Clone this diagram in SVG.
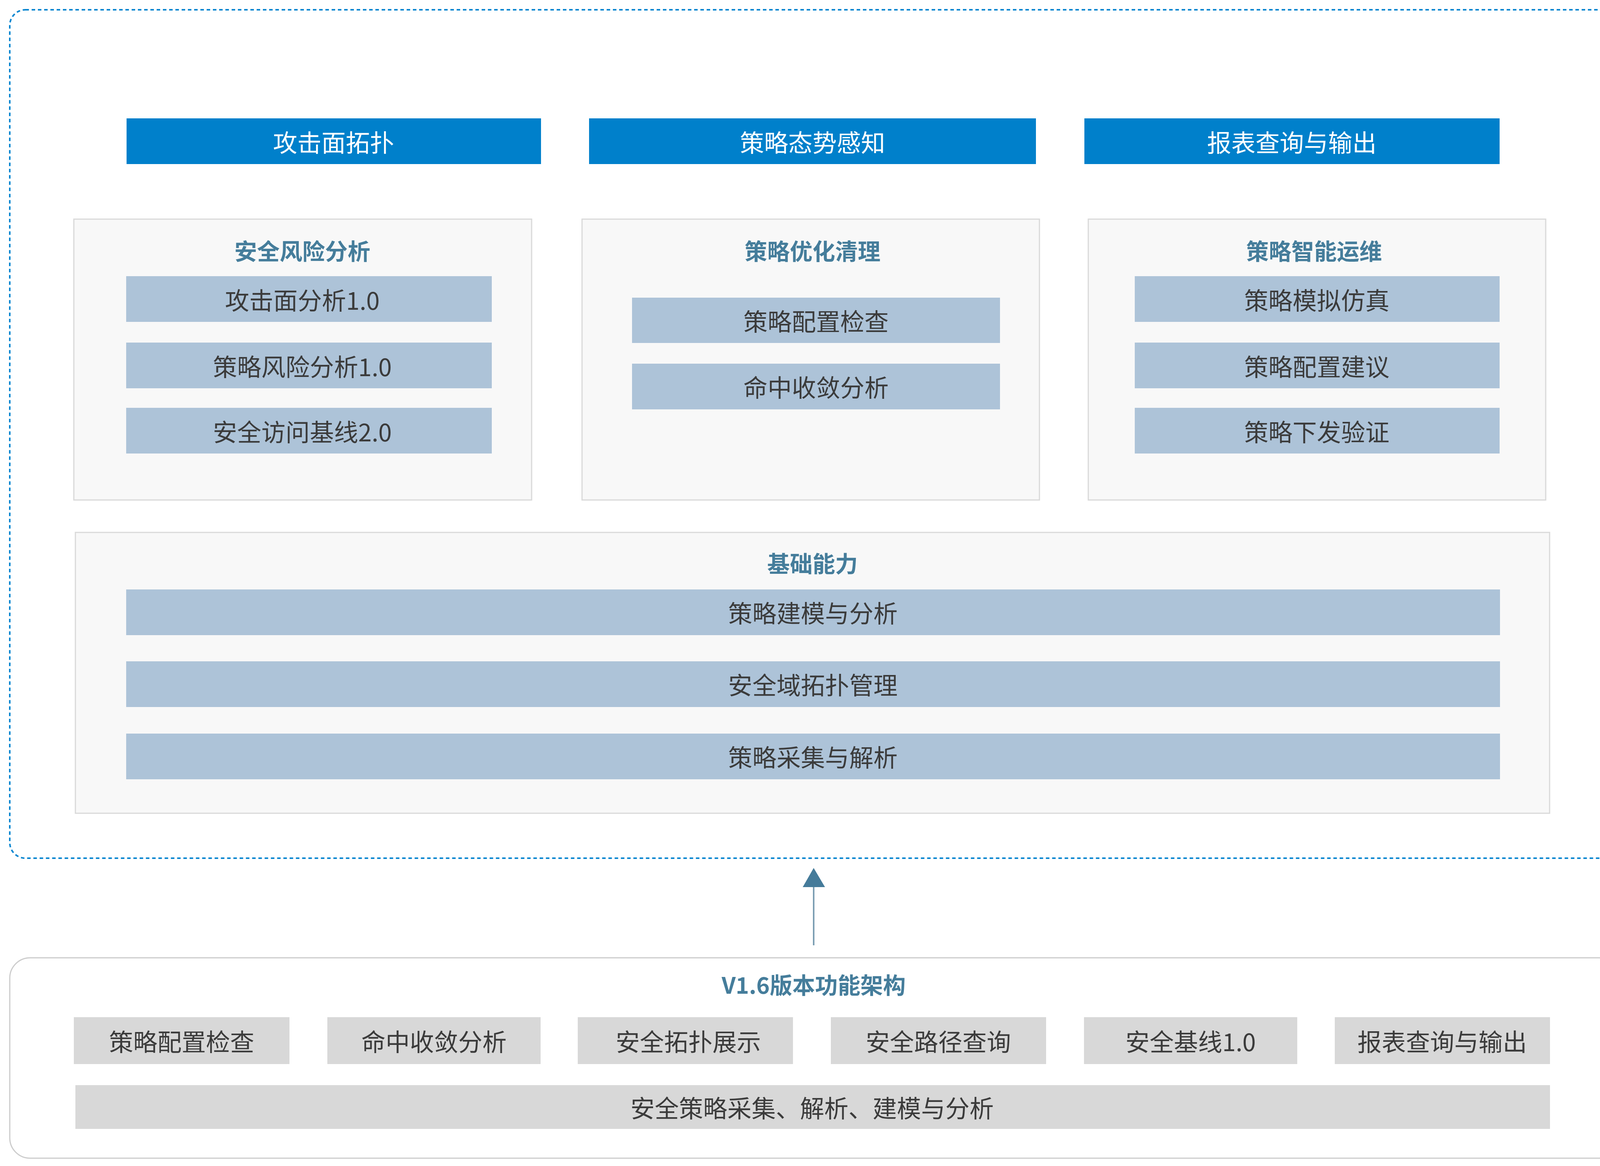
<svg xmlns="http://www.w3.org/2000/svg" width="4172" height="2985" viewBox="0 0 4172 2985">
<style>
text{font-family:"Noto Sans CJK SC","Microsoft YaHei",sans-serif;text-anchor:middle;dominant-baseline:central}
.hdr{fill:#0080cb}
.hdrt{fill:#ffffff;font-size:62px}
.panel{fill:#f8f8f8;stroke:#d9d9d9;stroke-width:3}
.ttl{fill:#457d9b;font-size:58px;font-weight:700}
.item{fill:#adc3d8}
.txt{fill:#3b3b3b;font-size:62px}
.gbox{fill:#d8d8d8}
</style>
<defs>
<marker id="ah" markerWidth="10" markerHeight="10" refX="5" refY="0" orient="auto" markerUnits="userSpaceOnUse"/>
</defs>
<rect id="frame" x="25" y="25" width="4122" height="2172" rx="40" ry="40" fill="none" stroke="#0a86d0" stroke-width="4" stroke-dasharray="9 7"/>

<g id="h1"><rect class="hdr" x="324" y="303" width="1061" height="117"/><text class="hdrt" x="854" y="362">攻击面拓扑</text></g>
<g id="h2"><rect class="hdr" x="1508" y="303" width="1144" height="117"/><text class="hdrt" x="2080" y="362">策略态势感知</text></g>
<g id="h3"><rect class="hdr" x="2776" y="303" width="1063" height="117"/><text class="hdrt" x="3307" y="362">报表查询与输出</text></g>

<g id="p1">
<rect class="panel" x="189" y="561" width="1172" height="719"/>
<text class="ttl" x="774" y="640">安全风险分析</text>
<rect class="item" x="323" y="707" width="936" height="117"/><text class="txt" x="774" y="766">攻击面分析1.0</text>
<rect class="item" x="323" y="877" width="936" height="117"/><text class="txt" x="774" y="936">策略风险分析1.0</text>
<rect class="item" x="323" y="1044" width="936" height="117"/><text class="txt" x="774" y="1103">安全访问基线2.0</text>
</g>
<g id="p2">
<rect class="panel" x="1490" y="561" width="1171" height="719"/>
<text class="ttl" x="2080" y="640">策略优化清理</text>
<rect class="item" x="1618" y="762" width="942" height="116"/><text class="txt" x="2089" y="820">策略配置检查</text>
<rect class="item" x="1618" y="931" width="942" height="117"/><text class="txt" x="2089" y="989">命中收敛分析</text>
</g>
<g id="p3">
<rect class="panel" x="2786" y="561" width="1171" height="719"/>
<text class="ttl" x="3364" y="640">策略智能运维</text>
<rect class="item" x="2905" y="707" width="934" height="117"/><text class="txt" x="3371" y="766">策略模拟仿真</text>
<rect class="item" x="2905" y="877" width="934" height="117"/><text class="txt" x="3371" y="936">策略配置建议</text>
<rect class="item" x="2905" y="1044" width="934" height="117"/><text class="txt" x="3371" y="1103">策略下发验证</text>
</g>
<g id="p4">
<rect class="panel" x="193" y="1363" width="3774" height="719"/>
<text class="ttl" x="2080" y="1440">基础能力</text>
<rect class="item" x="323" y="1509" width="3517" height="117"/><text class="txt" x="2081" y="1567">策略建模与分析</text>
<rect class="item" x="323" y="1693" width="3517" height="117"/><text class="txt" x="2081" y="1751">安全域拓扑管理</text>
<rect class="item" x="323" y="1878" width="3517" height="117"/><text class="txt" x="2081" y="1936">策略采集与解析</text>
</g>

<g id="connectors">
<line x1="2083" y1="2420" x2="2083" y2="2268" stroke="#7d9fb4" stroke-width="4"/>
<polygon points="2083,2222 2055,2271 2112,2271" fill="#457b9a"/>
</g>

<g id="v16">
<rect x="25" y="2452" width="4121" height="513" rx="52" ry="52" fill="#ffffff" stroke="#cccccc" stroke-width="3"/>
<text class="ttl" x="2083" y="2519">V1.6版本功能架构</text>
<rect class="gbox" x="189" y="2604" width="552" height="120"/><text class="txt" x="465" y="2664">策略配置检查</text>
<rect class="gbox" x="838" y="2604" width="546" height="120"/><text class="txt" x="1111" y="2664">命中收敛分析</text>
<rect class="gbox" x="1479" y="2604" width="551" height="120"/><text class="txt" x="1762" y="2664">安全拓扑展示</text>
<rect class="gbox" x="2127" y="2604" width="551" height="120"/><text class="txt" x="2402" y="2664">安全路径查询</text>
<rect class="gbox" x="2775" y="2604" width="546" height="120"/><text class="txt" x="3048" y="2664">安全基线1.0</text>
<rect class="gbox" x="3417" y="2604" width="551" height="120"/><text class="txt" x="3692" y="2664">报表查询与输出</text>
<rect class="gbox" x="193" y="2778" width="3775" height="112"/><text class="txt" x="2079" y="2834">安全策略采集、解析、建模与分析</text>
</g>
</svg>
